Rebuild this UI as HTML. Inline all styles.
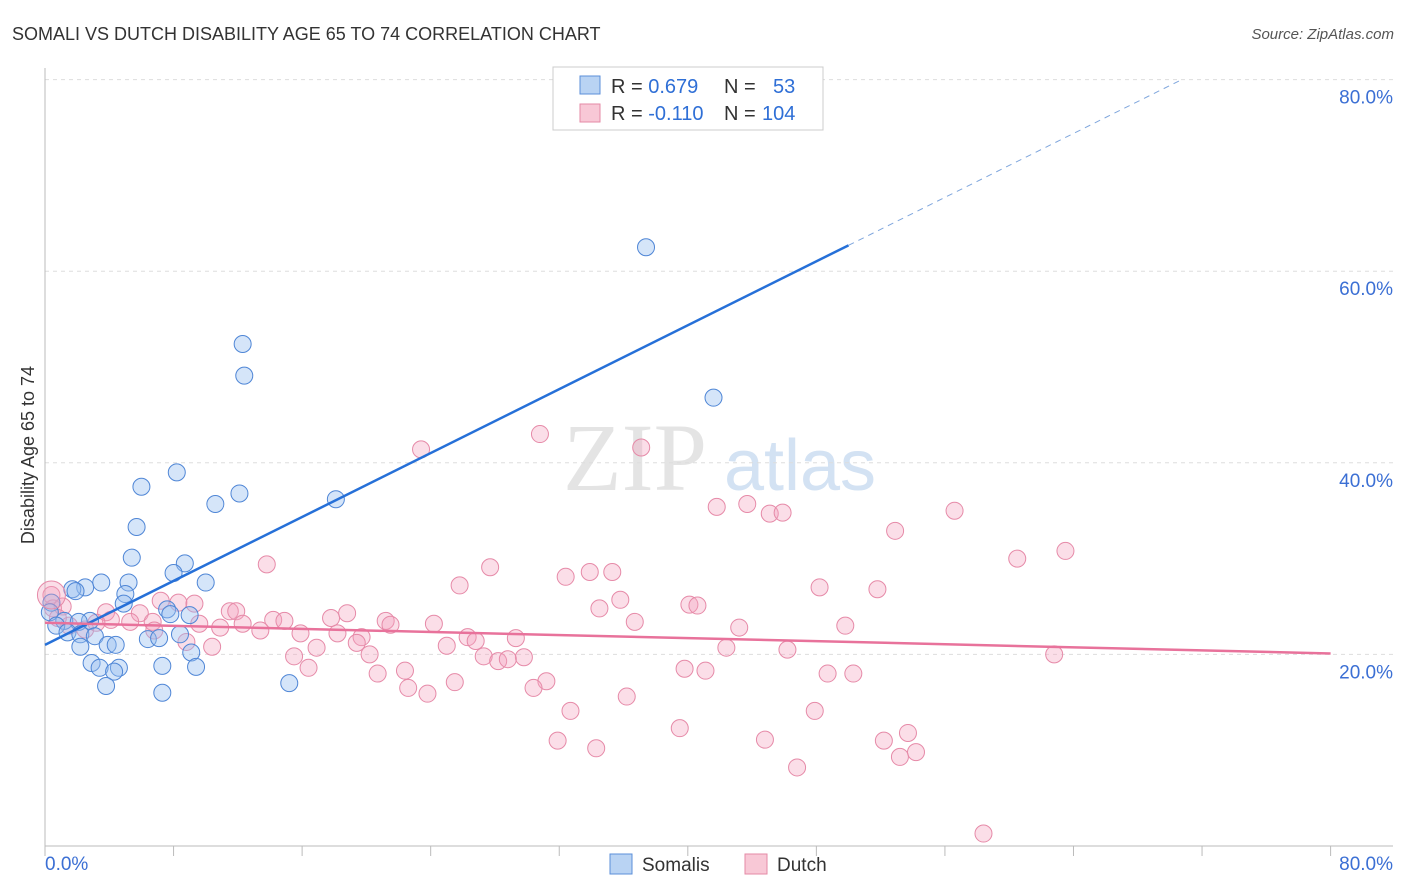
<!DOCTYPE html>
<html><head><meta charset="utf-8"><style>
body{margin:0;background:#fff;font-family:"Liberation Sans",sans-serif;}
svg{display:block}
</style></head><body>
<svg id="chart" width="1406" height="892">
<text x="12" y="40" font-size="18" fill="#333">SOMALI VS DUTCH DISABILITY AGE 65 TO 74 CORRELATION CHART</text>
<text x="1394" y="39" font-size="15" fill="#555" text-anchor="end" font-style="italic">Source: ZipAtlas.com</text>
<text x="635" y="490" font-size="96" fill="#e4e4e4" font-family="Liberation Serif,serif" text-anchor="middle">ZIP</text>
<text x="800" y="490" font-size="72" fill="#d3e2f3" text-anchor="middle">atlas</text>
<text transform="translate(34,455) rotate(-90)" font-size="18" fill="#333" text-anchor="middle">Disability Age 65 to 74</text>
<g id="grid"></g><g id="pts"></g><g id="lines"></g>
<g>
<rect x="553" y="67" width="270" height="63" fill="#fff" stroke="#ccc"/>
<rect x="580" y="76" width="20" height="18" fill="#b9d3f3" stroke="#5b8fd9"/>
<rect x="580" y="104" width="20" height="18" fill="#f8c8d6" stroke="#e48aa6"/>
<text x="611" y="93" font-size="20" fill="#333">R = <tspan fill="#2f6fd6">0.679</tspan><tspan x="724">N = </tspan><tspan x="773" fill="#2f6fd6">53</tspan></text>
<text x="611" y="120" font-size="20" fill="#333">R = <tspan fill="#2f6fd6">-0.110</tspan><tspan x="724">N = </tspan><tspan x="762" fill="#2f6fd6">104</tspan></text>
</g>
<rect x="610" y="854" width="22" height="20" fill="#b9d3f3" stroke="#5b8fd9"/>
<text x="642" y="871" font-size="19" fill="#333">Somalis</text>
<rect x="745" y="854" width="22" height="20" fill="#f8c8d6" stroke="#e48aa6"/>
<text x="777" y="871" font-size="19" fill="#333">Dutch</text>
</svg>
<script>
const yTicks=[20,40,60,80];
const xTickLabels=["0.0%","80.0%"];
const somaliX=[37.4,12.3,12.4,41.6,8.2,6.0,12.1,10.6,18.1,5.7,5.4,8.7,8.0,5.2,10.0,3.5,2.5,1.7,1.9,5.0,4.9,0.4,7.6,7.8,9.0,0.3,1.2,2.8,2.1,0.7,1.4,2.2,3.1,8.4,6.4,7.1,2.2,3.9,4.4,9.1,2.9,3.4,4.6,7.3,9.4,4.3,3.8,7.3,15.2];
const somaliY=[62.5,52.4,49.1,46.8,39.0,37.5,36.8,35.7,36.2,33.3,30.1,29.5,28.5,27.5,27.5,27.5,27.0,26.8,26.6,26.3,25.3,25.4,24.7,24.2,24.1,24.4,23.5,23.5,23.4,23.0,22.3,22.1,21.9,22.1,21.6,21.7,20.8,21.0,21.0,20.2,19.1,18.6,18.6,18.8,18.7,18.2,16.7,16.0,17.0];
const dutchX=[30.8,23.4,37.1,41.8,43.7,45.1,45.9,56.6,52.9,63.5,60.5,13.8,27.7,33.9,35.3,32.4,25.8,48.2,51.8,35.8,34.5,40.1,40.6,7.2,8.3,9.3,0.4,0.5,1.1,3.8,5.9,11.5,11.9,18.8,4.1,5.3,6.7,6.8,9.6,12.3,14.2,14.9,17.8,21.2,21.5,24.2,36.7,49.8,43.2,10.9,13.4,15.9,18.2,19.7,26.3,26.8,29.3,19.4,8.8,10.4,16.9,25.0,42.4,46.2,20.2,15.5,27.3,29.8,28.2,28.8,62.8,22.4,16.4,39.8,41.1,20.7,48.7,50.3,31.2,25.5,30.4,22.6,23.8,36.2,32.7,47.9,39.5,53.7,31.9,44.8,52.2,34.3,54.2,53.2,46.8,58.4,1.5,2.5,3.2,0.8];
const dutchY=[43.0,41.4,41.6,35.4,35.7,34.7,34.8,35.0,32.9,30.8,30.0,29.4,29.1,28.6,28.6,28.1,27.2,27.0,26.8,25.7,24.8,25.2,25.1,25.6,25.4,25.3,26.2,24.8,25.0,24.4,24.3,24.5,24.5,24.3,23.6,23.4,23.4,22.5,23.2,23.2,23.6,23.5,23.8,23.5,23.1,23.2,23.4,23.0,22.8,22.8,22.5,22.2,22.2,21.8,21.8,21.4,21.7,21.2,21.3,20.8,20.7,20.9,20.7,20.5,20.0,19.8,19.8,19.7,19.3,19.5,20.0,18.3,18.6,18.5,18.3,18.0,18.0,18.0,17.2,17.1,16.5,16.5,15.9,15.6,14.1,14.1,12.3,11.8,11.0,11.1,11.0,10.2,9.8,9.3,8.2,1.3,23.0,22.6,23.3,23.8];
const somaliTrend=[21.0,0.834];
const dutchTrend=[23.3,-0.04];
const NS='http://www.w3.org/2000/svg';
const X=v=>45+v*16.07, Y=v=>846-v*9.58;
function mk(p,t,a){const e=document.createElementNS(NS,t);for(const k in a)e.setAttribute(k,a[k]);p.appendChild(e);return e;}
const grid=document.getElementById('grid');
for(const t of yTicks){
 const l=mk(grid,'line',{x1:45,x2:1393,y1:Y(t),y2:Y(t),stroke:'#ddd','stroke-dasharray':'4,4'});
 
 
 const tx=mk(grid,'text',{x:1393,y:Y(t)+24,'font-size':19,fill:'#3b6fd4','text-anchor':'end'});
 tx.textContent=t.toFixed(1)+'%';
 
 
}
mk(grid,'line',{x1:45,x2:45,y1:68,y2:846,stroke:'#bbb'});
mk(grid,'line',{x1:45,x2:1393,y1:846,y2:846,stroke:'#bbb'});
for(let i=0;i<=10;i++){mk(grid,'line',{x1:X(i*8),x2:X(i*8),y1:846,y2:856,stroke:'#bbb'});}
const x0=mk(grid,'text',{x:45,y:870,'font-size':19,fill:'#3b6fd4'});x0.textContent=xTickLabels[0];


const x1=mk(grid,'text',{x:1393,y:870,'font-size':19,fill:'#3b6fd4','text-anchor':'end'});x1.textContent=xTickLabels[1];


const pts=document.getElementById('pts');
dutchX.forEach((v,i)=>{const c=mk(pts,'circle',{cx:X(v),cy:Y(dutchY[i]),r:8.5,fill:'rgba(244,160,188,0.35)',stroke:'#e68aa8','stroke-width':1});
 
 });
somaliX.forEach((v,i)=>{const c=mk(pts,'circle',{cx:X(v),cy:Y(somaliY[i]),r:8.5,fill:'rgba(150,190,240,0.4)',stroke:'#4f86d6','stroke-width':1});
 
 });
const big=mk(pts,'circle',{cx:X(0.4),cy:Y(26.2),r:14,fill:'rgba(244,160,188,0.35)',stroke:'#e68aa8'});


const ln=document.getElementById('lines');
const st=x=>somaliTrend[0]+somaliTrend[1]*x, dt=x=>dutchTrend[0]+dutchTrend[1]*x;
const a=mk(ln,'line',{x1:X(0),y1:Y(st(0)),x2:X(50),y2:Y(st(50)),stroke:'#2670d8','stroke-width':2.5});


const b=mk(ln,'line',{x1:X(50),y1:Y(st(50)),x2:X(70.6),y2:Y(st(70.6)),stroke:'#7fa6dd','stroke-width':1,'stroke-dasharray':'6,5'});


const c=mk(ln,'line',{x1:X(0),y1:Y(dt(0)),x2:X(80),y2:Y(dt(80)),stroke:'#e8729b','stroke-width':2.5});


</script>
</body></html>
